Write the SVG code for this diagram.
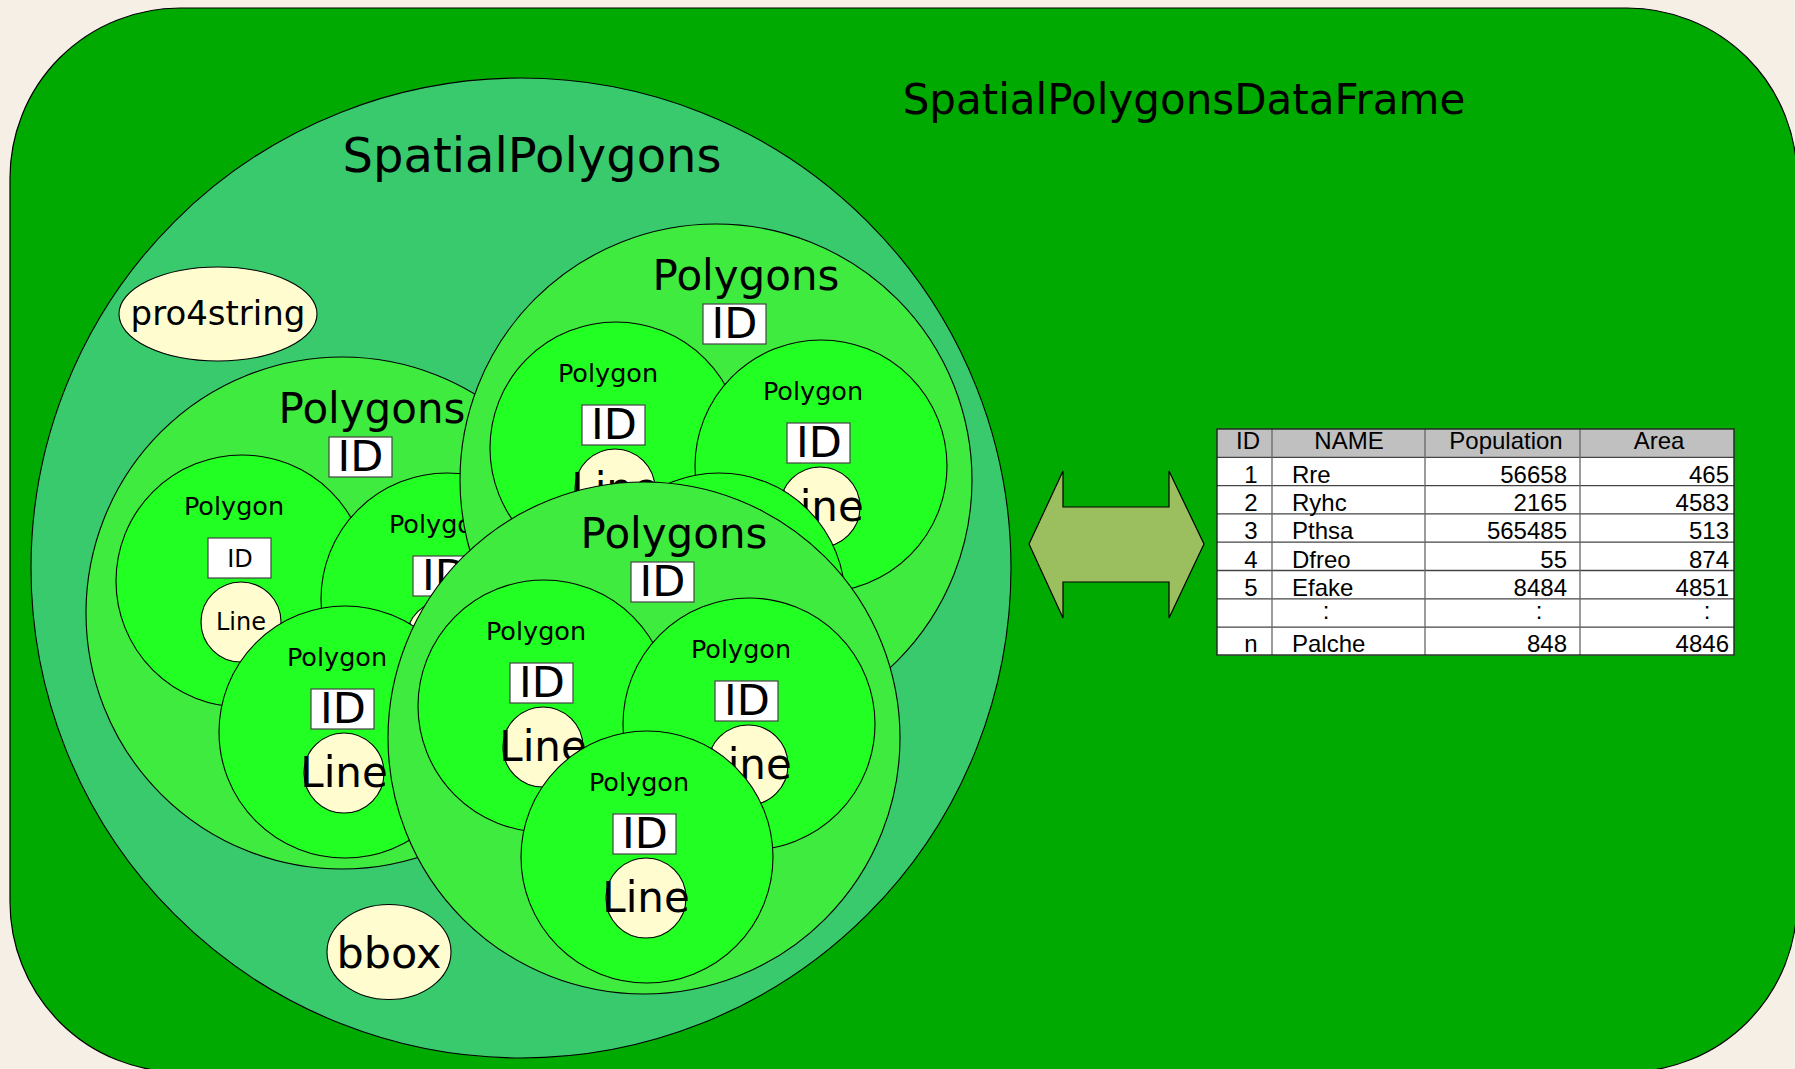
<svg xmlns="http://www.w3.org/2000/svg" width="1795" height="1069" viewBox="0 0 1795 1069">
  <defs>
    <style>
      .frame { fill: #00aa00; stroke: #000; stroke-width: 1.2; }
      .sp { fill: #38ca6c; stroke: #000; stroke-width: 1.1; }
      .grp { fill: #3feb3f; stroke: #000; stroke-width: 1.1; }
      .poly { fill: #22ff22; stroke: #000; stroke-width: 1.1; }
      .cream { fill: #fffccf; stroke: #000; stroke-width: 1.1; }
      .idbox { fill: #fff; stroke: #444; stroke-width: 1.2; }
      text { font-family: "DejaVu Sans", "Noto Sans", sans-serif; fill: #000; text-anchor: middle; }
      .t-title { font-size: 42px; }
      .t-sp { font-size: 48px; }
      .t-grp { font-size: 42px; }
      .t-poly { font-size: 25.5px; }
      .t-id { font-size: 43px; }
      .t-line { font-size: 42px; }
      .t-small { font-size: 24px; }
      .t-attr { font-size: 34px; }
      .t-bbox { font-size: 43px; }
      .tbl text { font-family: "Liberation Sans", Arial, sans-serif; font-size: 24px; }
      .tbl .l { text-anchor: start; }
      .tbl .r { text-anchor: end; }
      .grid { stroke: #444; stroke-width: 1.3; fill: none; }
      .grid .v { stroke: #666; }
      .arrow { fill: #9bbe5f; stroke: #000; stroke-width: 1.2; }
    </style>

    <!-- one Polygon: circle, label, ID slot and its Line -->
    <g id="polygon">
      <circle r="126" class="poly"/>
      <text x="-8" y="-66" class="t-poly">Polygon</text>
      <rect x="-34" y="-43" width="63" height="40" class="idbox"/>
      <text x="-2" y="-9" class="t-id">ID</text>
      <circle cx="-1" cy="41" r="40" class="cream"/>
      <text x="-1" y="55" class="t-line">Line</text>
    </g>

    <!-- Polygons container header: label and ID slot -->
    <g id="polygons-head">
      <circle r="256" class="grp"/>
      <text x="30" y="-190" class="t-grp">Polygons</text>
      <rect x="-13" y="-176" width="63" height="40" class="idbox"/>
      <text x="18.5" y="-142" class="t-id">ID</text>
    </g>
  </defs>

  <!-- page background -->
  <rect x="0" y="0" width="1795" height="1069" fill="#f5efe5"/>

  <!-- SpatialPolygonsDataFrame -->
  <g id="spdf">
    <rect x="10" y="8" width="1787" height="1064" rx="170" ry="170" class="frame"/>
    <text x="1184" y="114" class="t-title">SpatialPolygonsDataFrame</text>
  </g>

  <!-- SpatialPolygons -->
  <g id="spatialpolygons">
    <circle cx="521" cy="568" r="490" class="sp"/>
    <text x="532" y="172" class="t-sp">SpatialPolygons</text>
  </g>

  <g id="pro4string">
    <ellipse cx="218" cy="314" rx="99" ry="47" class="cream"/>
    <text x="218" y="325" class="t-attr">pro4string</text>
  </g>

  <g id="bbox">
    <ellipse cx="389" cy="952" rx="62" ry="47.5" class="cream"/>
    <text x="389" y="968" class="t-bbox">bbox</text>
  </g>

  <!-- Polygons, left -->
  <g id="polygons-1" transform="translate(342,613)">
    <use href="#polygons-head"/>
    <g id="polygon-1a" transform="translate(-100,-32)">
      <circle r="126" class="poly"/>
      <text x="-8" y="-66" class="t-poly">Polygon</text>
      <rect x="-34" y="-43" width="63" height="40" class="idbox"/>
      <text x="-2" y="-14" class="t-small">ID</text>
      <circle cx="-1" cy="41" r="40" class="cream"/>
      <text x="-1" y="49" class="t-small">Line</text>
    </g>
    <use id="polygon-1b" href="#polygon" transform="translate(105,-14)"/>
    <use id="polygon-1c" href="#polygon" transform="translate(3,119)"/>
  </g>

  <!-- Polygons, upper right -->
  <g id="polygons-2" transform="translate(716,480)">
    <use href="#polygons-head"/>
    <use id="polygon-2a" href="#polygon" transform="translate(-100,-32)"/>
    <use id="polygon-2b" href="#polygon" transform="translate(105,-14)"/>
    <use id="polygon-2c" href="#polygon" transform="translate(3,119)"/>
  </g>

  <!-- Polygons, front -->
  <g id="polygons-3" transform="translate(644,738)">
    <use href="#polygons-head"/>
    <use id="polygon-3a" href="#polygon" transform="translate(-100,-32)"/>
    <use id="polygon-3b" href="#polygon" transform="translate(105,-14)"/>
    <use id="polygon-3c" href="#polygon" transform="translate(3,119)"/>
  </g>

  <!-- two-way link between geometry and attribute table -->
  <g id="connectors">
    <polygon class="arrow" points="1029,544 1063,471 1063,507 1169,507 1169,471 1204,544 1169,618 1169,582 1063,582 1063,618"/>
  </g>

  <!-- attribute table -->
  <g id="data-table" class="tbl">
    <rect x="1217" y="429" width="517" height="28.3" fill="#c0c0c0"/>
    <rect x="1217" y="457.3" width="517" height="198" fill="#fff"/>
    <g class="grid">
      <line x1="1217" y1="457.3" x2="1734" y2="457.3"/>
      <line x1="1217" y1="485.6" x2="1734" y2="485.6"/>
      <line x1="1217" y1="513.9" x2="1734" y2="513.9"/>
      <line x1="1217" y1="542.2" x2="1734" y2="542.2"/>
      <line x1="1217" y1="570.5" x2="1734" y2="570.5"/>
      <line x1="1217" y1="598.8" x2="1734" y2="598.8"/>
      <line x1="1217" y1="627.1" x2="1734" y2="627.1"/>
      <line class="v" x1="1272" y1="429" x2="1272" y2="655"/>
      <line class="v" x1="1425" y1="429" x2="1425" y2="655"/>
      <line class="v" x1="1580" y1="429" x2="1580" y2="655"/>
    </g>
    <rect x="1217" y="429" width="517" height="226" fill="none" stroke="#222" stroke-width="1.4"/>

    <text x="1248" y="449">ID</text>
    <text x="1349" y="449">NAME</text>
    <text x="1506" y="449">Population</text>
    <text x="1659" y="449">Area</text>

    <text x="1251" y="483">1</text>
    <text x="1292" y="483" class="l">Rre</text>
    <text x="1567" y="483" class="r">56658</text>
    <text x="1729" y="483" class="r">465</text>

    <text x="1251" y="511">2</text>
    <text x="1292" y="511" class="l">Ryhc</text>
    <text x="1567" y="511" class="r">2165</text>
    <text x="1729" y="511" class="r">4583</text>

    <text x="1251" y="539">3</text>
    <text x="1292" y="539" class="l">Pthsa</text>
    <text x="1567" y="539" class="r">565485</text>
    <text x="1729" y="539" class="r">513</text>

    <text x="1251" y="567.5">4</text>
    <text x="1292" y="567.5" class="l">Dfreo</text>
    <text x="1567" y="567.5" class="r">55</text>
    <text x="1729" y="567.5" class="r">874</text>

    <text x="1251" y="595.5">5</text>
    <text x="1292" y="595.5" class="l">Efake</text>
    <text x="1567" y="595.5" class="r">8484</text>
    <text x="1729" y="595.5" class="r">4851</text>

    <text x="1326" y="619">:</text>
    <text x="1539" y="619">:</text>
    <text x="1707" y="619">:</text>

    <text x="1251" y="652">n</text>
    <text x="1292" y="652" class="l">Palche</text>
    <text x="1567" y="652" class="r">848</text>
    <text x="1729" y="652" class="r">4846</text>
  </g>
</svg>
